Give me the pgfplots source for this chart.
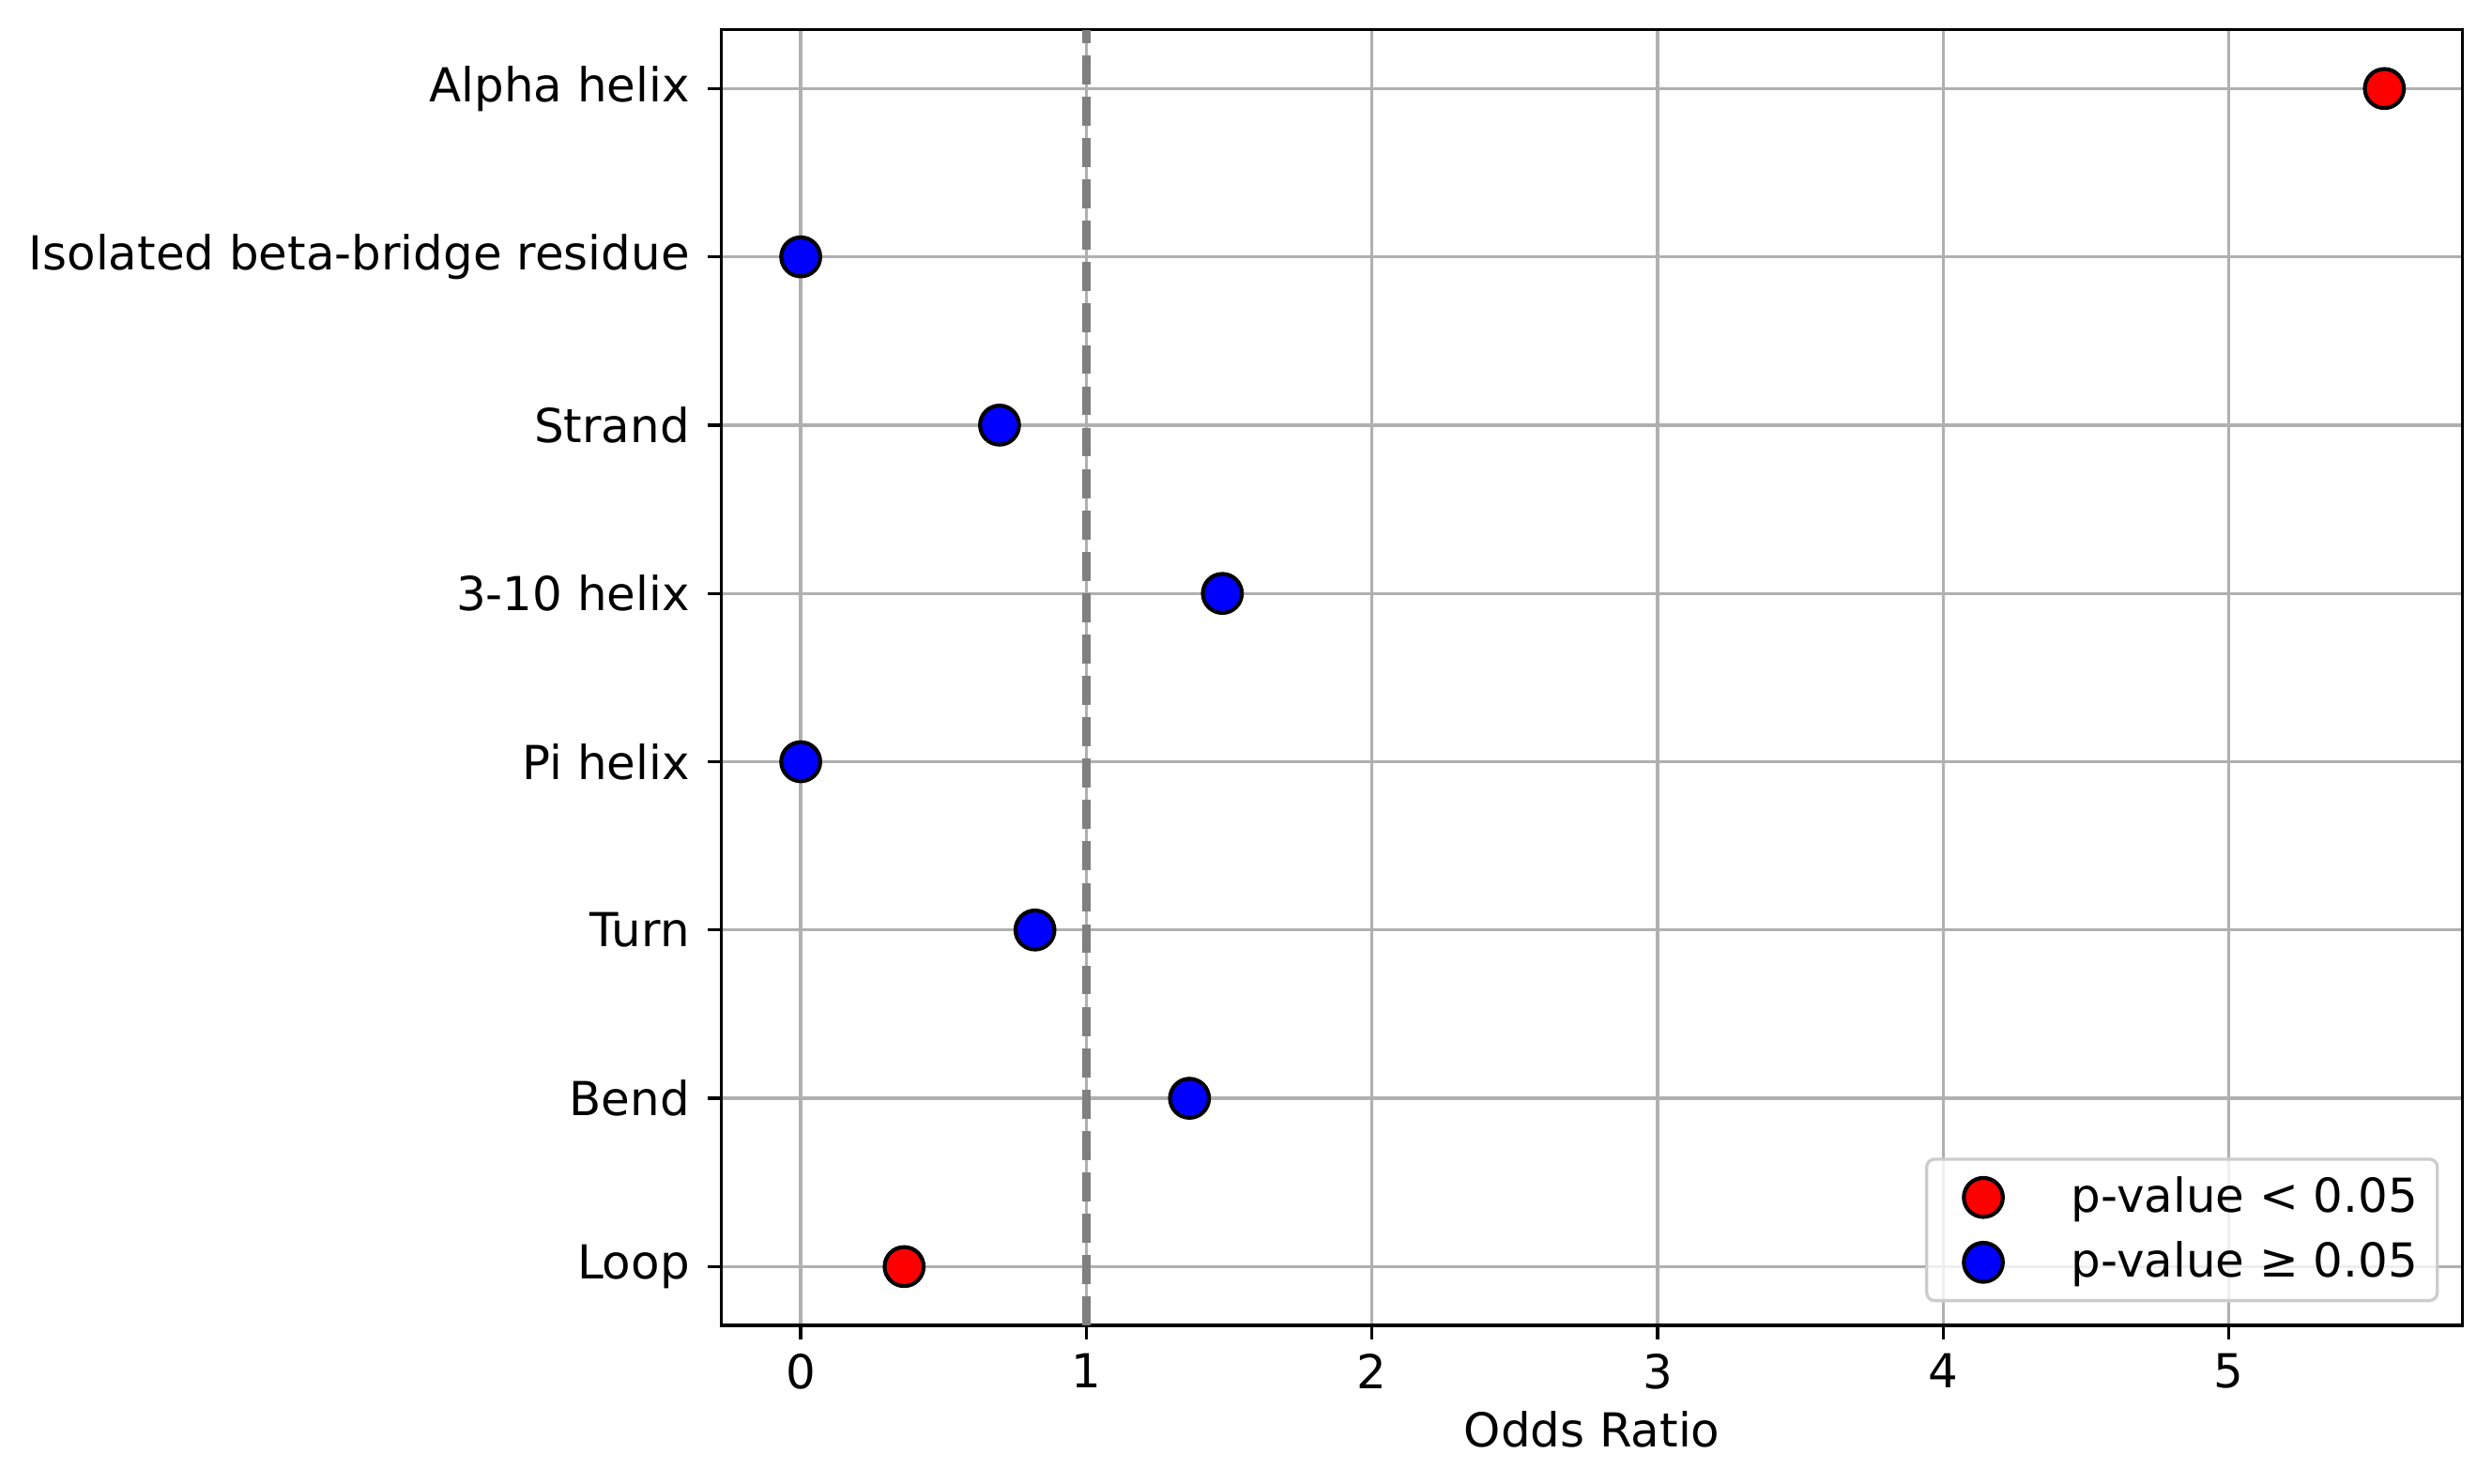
\documentclass[border=0pt]{standalone}
\usepackage{pgfplots}
\pgfplotsset{compat=1.18}
\usepackage{fontspec}
\setmainfont{DejaVu Sans}
\definecolor{gridgray}{HTML}{B0B0B0}
\definecolor{dashgray}{HTML}{808080}
\definecolor{leggray}{HTML}{CCCCCC}
\begin{document}
\begin{tikzpicture}
\begin{axis}[
  set layers,
  scale only axis, width=446pt, height=332pt,
  xmin=-0.277, xmax=5.817, ymin=-0.35, ymax=7.35,
  xtick={0,1,2,3,4,5},
  ytick={0,1,2,3,4,5,6,7},
  yticklabels={Loop,Bend,Turn,Pi helix,3-10 helix,Strand,Isolated beta-bridge residue,Alpha helix},
  grid=major, major grid style={gridgray, line width=0.8pt},
  tick align=outside, major tick length=3.5pt, tick style={black, line width=0.8pt},
  tick pos=left,
  axis line style={line width=0.8pt},
  /pgf/number format/assume math mode=true,
  tick label style={font=\fontsize{12}{14.4}\selectfont},
  yticklabel style={inner xsep=4.5pt},
  xticklabel style={inner ysep=3.5pt},
  label style={font=\fontsize{12}{14.4}\selectfont},
  xlabel={Odds Ratio},
  xlabel style={inner ysep=2pt},
  legend cell align=left,
  legend style={at={(0.9865,0.018)}, anchor=south east, draw=leggray, line width=0.8pt,
    rounded corners=2pt, fill=white, fill opacity=0.8, text opacity=1, draw opacity=1,
    font=\fontsize{12}{14.4}\selectfont, inner xsep=3pt, inner ysep=2.5pt, row sep=2pt,
    nodes={inner sep=2pt}},
  legend image code/.code={\draw[#1, fill opacity=1, draw opacity=1] (11pt,0pt) circle[radius=5pt];\path (0pt,0pt) (31pt,0pt);},
]
\addplot[only marks, mark=*, mark size=5pt, mark options={fill=red, draw=black, line width=1pt}, fill=red, draw=black, line width=1pt, on layer=axis background]
  coordinates {(5.544,7) (0.362,0)};
\addlegendentry{p-value < 0.05}
\addplot[only marks, mark=*, mark size=5pt, mark options={fill=blue, draw=black, line width=1pt}, fill=blue, draw=black, line width=1pt, on layer=axis background]
  coordinates {(0,6) (0.696,5) (1.476,4) (0,3) (0.820,2) (1.361,1)};
\addlegendentry{p-value ≥ 0.05}
\addplot[dashgray, line width=2pt, dash pattern=on 7.4pt off 3.2pt, forget plot]
  coordinates {(1,-0.35) (1,7.35)};
\end{axis}
\path ([shift={(-2.9pt,-7.2pt)}]current bounding box.south west) rectangle ([shift={(7.2pt,7.2pt)}]current bounding box.north east);
\end{tikzpicture}
\end{document}
